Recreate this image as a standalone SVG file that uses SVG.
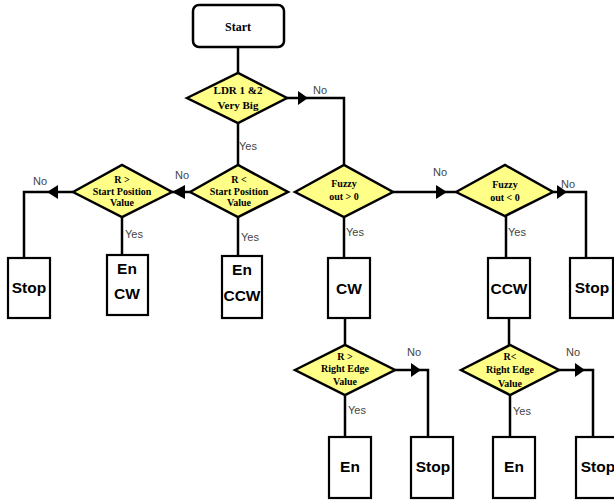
<svg xmlns="http://www.w3.org/2000/svg" width="614" height="501" viewBox="0 0 614 501">
<style>
.d{fill:#ffff88;stroke:#000;stroke-width:2.5;stroke-linejoin:miter}
.b{fill:#fff;stroke:#000;stroke-width:2.2}
.c{fill:none;stroke:#000;stroke-width:2.5}
.ah{fill:#000}
.dt{font-family:"Liberation Serif",serif;font-weight:bold;font-size:10px;text-anchor:middle;fill:#000}
.bt{font-family:"Liberation Sans",Arial,sans-serif;font-weight:bold;font-size:15.5px;text-anchor:middle;fill:#000}
.lb{font-family:"Liberation Sans",Arial,sans-serif;font-size:11px;fill:#444}
</style>
<rect width="614" height="501" fill="#fff"/>
<g id="connectors">
<path class="c" d="M238,47V73"/>
<path class="c" d="M238,123V165"/>
<path class="c" d="M287,98H344V165"/>
<path class="c" d="M190,192H172"/>
<path class="c" d="M73,192H24V258"/>
<path class="c" d="M122,217V255"/>
<path class="c" d="M238,217V256"/>
<path class="c" d="M393,192H456"/>
<path class="c" d="M553,192H586V258"/>
<path class="c" d="M344,217V258"/>
<path class="c" d="M506,216V258"/>
<path class="c" d="M345,318V345"/>
<path class="c" d="M509,318V345"/>
<path class="c" d="M395,370H428V437"/>
<path class="c" d="M345,395V437"/>
<path class="c" d="M559,370H593V437"/>
<path class="c" d="M510,395V437"/>
<polygon class="ah" points="298,91 308,98 298,105"/>
<polygon class="ah" points="185,185 172,192 185,199"/>
<polygon class="ah" points="58,185 47,192 58,199"/>
<polygon class="ah" points="436,185 447,192 436,199"/>
<polygon class="ah" points="557,185 567,192 557,199"/>
<polygon class="ah" points="411,363 421,370 411,377"/>
<polygon class="ah" points="575,363 585,370 575,377"/>
<text class="lb" x="313" y="94">No</text>
<text class="lb" x="239" y="150">Yes</text>
<text class="lb" x="175" y="179">No</text>
<text class="lb" x="33" y="185">No</text>
<text class="lb" x="125" y="238">Yes</text>
<text class="lb" x="241" y="241">Yes</text>
<text class="lb" x="433" y="176">No</text>
<text class="lb" x="346" y="236">Yes</text>
<text class="lb" x="508" y="236">Yes</text>
<text class="lb" x="561" y="188">No</text>
<text class="lb" x="407" y="356">No</text>
<text class="lb" x="348" y="414">Yes</text>
<text class="lb" x="566" y="356">No</text>
<text class="lb" x="513" y="415">Yes</text>
</g>
<g id="start">
<rect x="193" y="5" width="91" height="42" rx="6" fill="#fff" stroke="#000" stroke-width="2.5"/>
<text class="dt" x="238" y="31" style="font-size:12px">Start</text>
</g>
<g id="ldr">
<polygon class="d" points="187,98 238,73 287,98 238,123"/>
<text class="dt" x="238" y="94" style="font-size:11px">LDR 1 &amp;2</text>
<text class="dt" x="238" y="109" style="font-size:11px">Very Big</text>
</g>
<g id="rgtstart">
<polygon class="d" points="73,192 122,165 172,192 122,217"/>
<text class="dt" x="122" y="183">R &gt;</text>
<text class="dt" x="122" y="195">Start Position</text>
<text class="dt" x="122" y="206">Value</text>
</g>
<g id="rltstart">
<polygon class="d" points="190,192 238,165 288,192 238,217"/>
<text class="dt" x="239" y="183">R &lt;</text>
<text class="dt" x="239" y="195">Start Position</text>
<text class="dt" x="239" y="206">Value</text>
</g>
<g id="fuzzygt">
<polygon class="d" points="295,192 344,165 393,192 344,217"/>
<text class="dt" x="344" y="187">Fuzzy</text>
<text class="dt" x="344" y="200">out &gt; 0</text>
</g>
<g id="fuzzylt">
<polygon class="d" points="456,192 505,165 553,192 505,216"/>
<text class="dt" x="505" y="188">Fuzzy</text>
<text class="dt" x="505" y="201">out &lt; 0</text>
</g>
<g id="rgtedge">
<polygon class="d" points="295,370 345,345 395,370 345,395"/>
<text class="dt" x="345" y="360">R &gt;</text>
<text class="dt" x="345" y="372">Right Edge</text>
<text class="dt" x="345" y="385">Value</text>
</g>
<g id="rltedge">
<polygon class="d" points="461,370 510,345 559,370 510,395"/>
<text class="dt" x="510" y="360">R&lt;</text>
<text class="dt" x="510" y="373">Right Edge</text>
<text class="dt" x="510" y="387">Value</text>
</g>
<g id="stop1"><rect class="b" x="8" y="258" width="42" height="60"/><text class="bt" x="29" y="293">Stop</text></g>
<g id="encw"><rect class="b" x="107" y="255" width="41" height="60"/><text class="bt" x="127" y="274">En</text><text class="bt" x="127" y="299">CW</text></g>
<g id="enccw"><rect class="b" x="222" y="256" width="40" height="62"/><text class="bt" x="242" y="275">En</text><text class="bt" x="242" y="301">CCW</text></g>
<g id="cw"><rect class="b" x="328" y="258" width="42" height="60"/><text class="bt" x="349" y="294">CW</text></g>
<g id="ccw"><rect class="b" x="488" y="258" width="42" height="60"/><text class="bt" x="509" y="294">CCW</text></g>
<g id="stop2"><rect class="b" x="570" y="258" width="43" height="60"/><text class="bt" x="592" y="293">Stop</text></g>
<g id="en1"><rect class="b" x="329" y="437" width="42" height="61"/><text class="bt" x="350" y="472">En</text></g>
<g id="stop3"><rect class="b" x="411" y="437" width="42" height="61"/><text class="bt" x="433" y="472">Stop</text></g>
<g id="en2"><rect class="b" x="493" y="437" width="42" height="61"/><text class="bt" x="514" y="472">En</text></g>
<g id="stop4"><rect class="b" x="576" y="437" width="45" height="61"/><text class="bt" x="598" y="472">Stop</text></g>
</svg>
